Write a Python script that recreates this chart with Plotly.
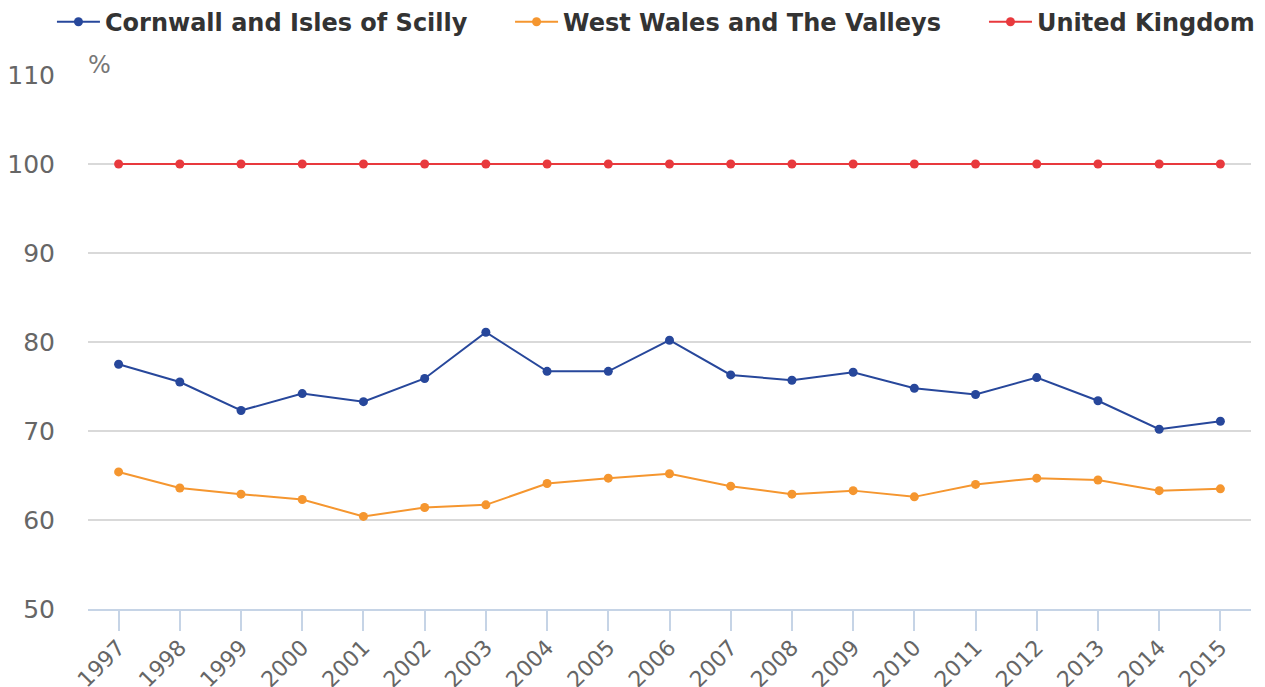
import plotly.graph_objects as go

years = ["1997", "1998", "1999", "2000", "2001", "2002", "2003", "2004", "2005", "2006",
         "2007", "2008", "2009", "2010", "2011", "2012", "2013", "2014", "2015"]
cornwall = [77.5, 75.5, 72.3, 74.2, 73.3, 75.9, 81.1, 76.7, 76.7, 80.2,
            76.3, 75.7, 76.6, 74.8, 74.1, 76.0, 73.4, 70.2, 71.1]
west_wales = [65.4, 63.6, 62.9, 62.3, 60.4, 61.4, 61.7, 64.1, 64.7, 65.2,
              63.8, 62.9, 63.3, 62.6, 64.0, 64.7, 64.5, 63.3, 63.5]
uk = [100, 100, 100, 100, 100, 100, 100, 100, 100, 100,
      100, 100, 100, 100, 100, 100, 100, 100, 100]

series = [
    ("Cornwall and Isles of Scilly", cornwall, "#27479b", "legend"),
    ("West Wales and The Valleys", west_wales, "#f5962f", "legend2"),
    ("United Kingdom", uk, "#e8393d", "legend3"),
]

fig = go.Figure()
for name, vals, color, lg in series:
    fig.add_trace(go.Scatter(
        x=years, y=vals, name=name, mode="lines+markers",
        line=dict(color=color, width=2),
        marker=dict(color=color, size=9),
        legend=lg,
    ))

legend_font = dict(family="DejaVu Sans", size=24, color="#333333", weight="bold")
legend_y = 1.099


def make_legend(xpos):
    return dict(
        orientation="h", x=xpos, xanchor="left", y=legend_y, yanchor="middle",
        font=legend_font, itemwidth=43, bgcolor="rgba(0,0,0,0)",
    )


fig.update_layout(
    width=1265, height=687,
    margin=dict(l=80, r=22, t=67, b=86, autoexpand=False),
    paper_bgcolor="white", plot_bgcolor="white",
    font=dict(family="DejaVu Sans", color="#666666"),
    showlegend=True,
    legend=make_legend(-0.031),
    legend2=make_legend(0.3629),
    legend3=make_legend(0.7704),
    xaxis=dict(
        type="category", range=[-0.5, 18.5],
        showgrid=False, zeroline=False,
        showline=True, linecolor="#c6d4e6", linewidth=2,
        ticks="outside", ticklen=20, tickwidth=2, tickcolor="#c6d4e6",
        tickangle=-45, tickfont=dict(size=22, color="#666666"),
        ticklabelstandoff=-5,
    ),
    yaxis=dict(
        range=[50, 110], tickvals=[50, 60, 70, 80, 90, 100, 110],
        showgrid=True, gridcolor="#d9d9d9", gridwidth=2,
        zeroline=False, showline=False,
        ticks="", ticklabelstandoff=32,
        tickfont=dict(size=25, color="#666666"),
    ),
    annotations=[dict(
        text="%", xref="paper", yref="paper", x=0, y=1, xanchor="left", yanchor="bottom",
        showarrow=False, font=dict(size=24, color="#777777"), xshift=-2, yshift=-6,
    )],
)

fig.write_html("out.html")
